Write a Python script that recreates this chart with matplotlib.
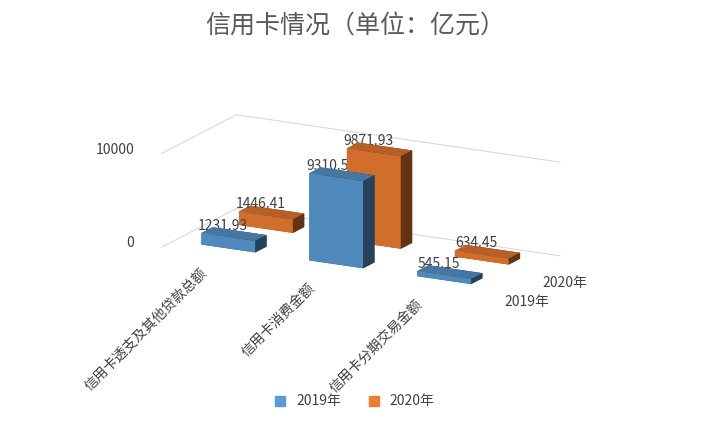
import matplotlib
matplotlib.use("Agg")
import matplotlib.pyplot as plt
import numpy as np
from matplotlib.patches import Patch

plt.rcParams['font.family'] = ['Noto Sans CJK SC', 'DejaVu Sans']

categories = ["信用卡透支及其他贷款总额", "信用卡消费金额", "信用卡分期交易金额"]
series = ["2019年", "2020年"]
v2019 = [1231.93, 9310.51, 545.15]
v2020 = [1446.41, 9871.93, 634.45]
zticks = [0, 10000]
colors = ["#5B9BD5", "#ED7D31"]

fig = plt.figure(figsize=(7.10, 4.21), dpi=100)
ax = fig.add_axes([0.0, 0.0, 1.0, 1.0], projection='3d')
ax.set_proj_type('ortho')
ax.view_init(elev=16, azim=-62)

dx, dy = 0.5, 0.3
for si, vals in enumerate([v2019, v2020]):
    for ci, v in enumerate(vals):
        ax.bar3d(ci - dx / 2, si - dy / 2, 0, dx, dy, v, color=colors[si],
                 shade=True, edgecolor='none')
        ax.text(ci - 0.1, si, v + 300, f"{v:.2f}", fontsize=10,
                color='#404040', ha='center')

ax.set_xlim(-0.5, 2.5)
ax.set_ylim(-0.5, 1.5)
ax.set_zlim(0, 10000)
ax.set_box_aspect((3.2, 1.4, 0.85), zoom=0.95)
ax.set_xticks(range(3))
ax.set_xticklabels(categories, rotation=45, ha='right', fontsize=10, color='#404040')
ax.set_yticks([0, 1])
ax.set_yticklabels(series, fontsize=10, color='#404040')
ax.set_zticks(zticks)
ax.set_zticklabels([])
for z in zticks:
    ax.text(-0.75, -0.5, z, f"{z}", fontsize=10, color='#404040', ha='right', va='center')
for axis in (ax.xaxis, ax.yaxis, ax.zaxis):
    axis.set_pane_color((1, 1, 1, 0))
    axis.line.set_color((1, 1, 1, 0))
    axis._axinfo['grid']['color'] = '#D9D9D9'
    axis._axinfo['tick']['inward_factor'] = 0
    axis._axinfo['tick']['outward_factor'] = 0
ax.xaxis._axinfo['grid']['linewidth'] = 0
ax.yaxis._axinfo['grid']['linewidth'] = 0

fig.suptitle("信用卡情况（单位：亿元）", fontsize=18, color='#595959', y=0.97)
handles = [Patch(color=c, label=s) for c, s in zip(colors, series)]
fig.legend(handles=handles, loc='lower center', ncol=2, frameon=False,
           fontsize=10, bbox_to_anchor=(0.5, 0.0), handlelength=0.7,
           labelcolor='#404040')
fig.savefig("out.png", dpi=100)
